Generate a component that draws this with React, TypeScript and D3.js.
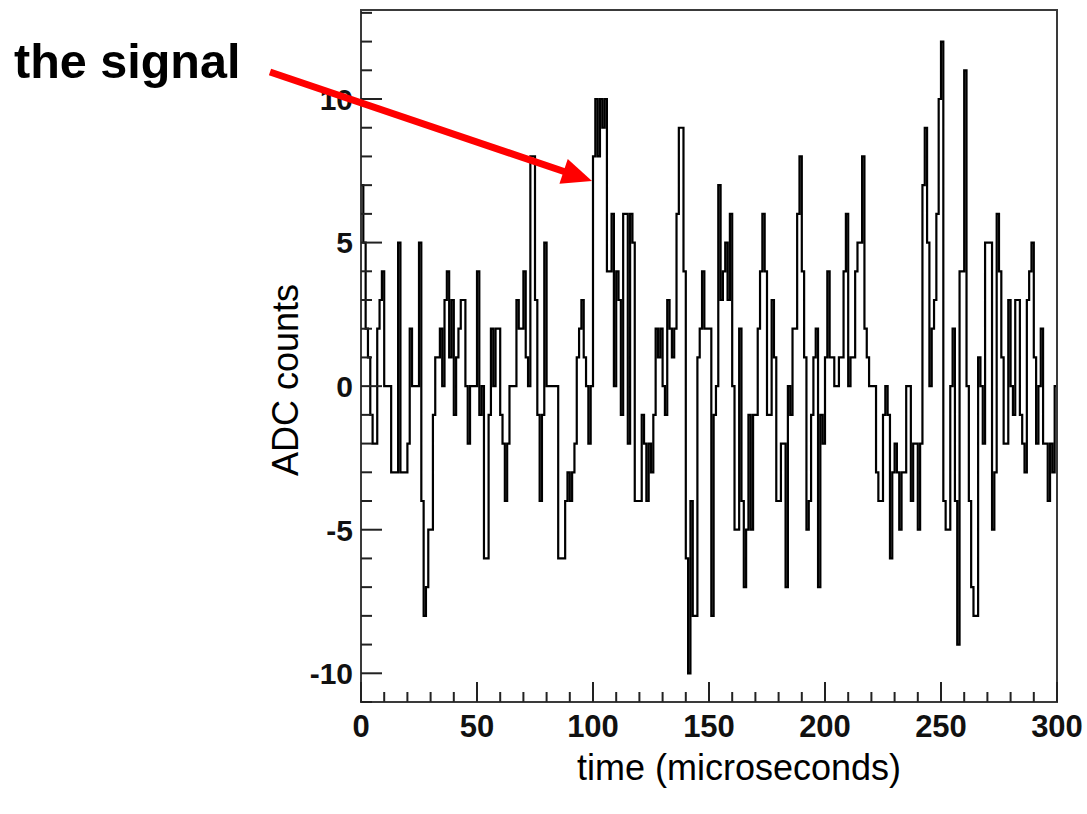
import React from "react";
import * as d3 from "d3";

// ADC samples, one per microsecond bin (0-299)
const adc000 = [7, 5, 2, 1, -1, -2, -2, 2, 3, 4, 0, 0, 0, -3, -3, -3, 5, -3, -3, -3, -2, 2, 0, 0, 0, 5, -4, -8, -7, -5, -5, -1, 1, 1, 2, 0, 3, 4, 1, 3, -1, 1, 2, 3, 3, 0, -2, 0, 0, 0];
const adc050 = [4, -1, 0, -6, -6, -1, 2, 0, 2, 2, -1, -2, -4, -2, 0, 0, 0, 3, 2, 2, 4, 1, 0, 8, 8, 3, -1, -4, -1, 5, 0, 0, 0, 0, 0, -6, -6, -6, -4, -3, -4, -3, -2, 1, 2, 3, 1, 0, -2, 0];
const adc100 = [8, 10, 8, 10, 9, 10, 4, 4, 6, 0, 4, 3, -1, 6, 6, -2, 6, 5, -4, -4, -4, -1, -2, -4, -2, -3, -1, 2, 1, 2, 0, -1, 3, 2, 1, 2, 6, 9, 9, 4, -6, -10, -4, -8, -8, 1, 2, 4, 2, 2];
const adc150 = [2, -8, -1, 0, 7, 3, 4, 5, 3, 6, 0, -5, -5, 2, -4, -7, -5, -1, -5, -1, -1, 2, 4, 6, 4, -1, -1, 3, 1, -4, -4, -2, -2, -7, 0, -1, 2, 2, 6, 8, 4, 1, -5, -4, -1, 1, 2, -7, -1, -2];
const adc200 = [1, 4, 1, 1, 0, 0, 1, 1, 4, 6, 0, 1, 1, 4, 5, 5, 8, 2, 1, 0, 0, 0, -3, -4, -4, -1, 0, -1, -6, -3, -2, -3, -5, -3, -3, 0, 0, -4, -2, -2, -5, -2, 7, 9, 5, 0, 2, 3, 6, 10];
const adc250 = [12, -4, -5, -5, 0, 2, -4, -9, 4, 4, 11, 0, -4, -7, -8, -8, 1, 0, -2, 5, 5, 5, -5, -3, 6, 4, 1, -2, -2, 3, 0, -1, 3, 3, -1, -2, -3, 3, 4, 5, 1, -2, 0, 2, -2, -2, -4, -2, -3, 0];

const adcCounts = [...adc000, ...adc050, ...adc100, ...adc150, ...adc200, ...adc250];

const xTickLabels = [0, 50, 100, 150, 200, 250, 300];
const yTickLabels = [-10, -5, 0, 5, 10];

const W = 1087;
const H = 814;
const FONT = "'Liberation Sans', Arial, Helvetica, sans-serif";

export default function App() {
  const left = 361;
  const right = 1057;
  const top = 10;
  const bottom = 702;

  const x = d3.scaleLinear().domain([0, 300]).range([left, right]);
  const y = d3.scaleLinear().domain([-11, 13.1]).range([bottom, top]);

  const pts: [number, number][] = adcCounts.map((v, i) => [i, v]);
  pts.push([adcCounts.length, adcCounts[adcCounts.length - 1]]);
  const line = d3
    .line<[number, number]>()
    .x((d) => x(d[0]))
    .y((d) => y(d[1]))
    .curve(d3.curveStepAfter);

  const yMinor = d3.range(-11, 14);
  const xMinor = d3.range(0, 301, 10);

  // arrow geometry (annotation)
  const ax1 = 270, ay1 = 72, ax2 = 592, ay2 = 181;
  const ang = Math.atan2(ay2 - ay1, ax2 - ax1);
  const headLen = 30, headW = 13;
  const bx = ax2 - headLen * Math.cos(ang);
  const by = ay2 - headLen * Math.sin(ang);
  const px = -Math.sin(ang), py = Math.cos(ang);
  const head = `${ax2},${ay2} ${bx + px * headW},${by + py * headW} ${bx - px * headW},${by - py * headW}`;

  return (
    <div style={{ position: "absolute", left: 0, top: 0 }}>
      <svg width={W} height={H} style={{ display: "block", background: "#fff" }}>
        {/* histogram */}
        <path d={line(pts) || ""} fill="none" stroke="#000" strokeWidth={2.2} />

        {/* frame */}
        <rect x={left} y={top} width={right - left} height={bottom - top} fill="none" stroke="#3a3a3a" strokeWidth={2} />

        {/* y ticks */}
        {yMinor.map((v) => {
          const major = v % 5 === 0;
          return (
            <line key={"yt" + v} x1={left} x2={left + (major ? 21 : 11)} y1={y(v)} y2={y(v)} stroke="#222" strokeWidth={2} />
          );
        })}
        {yTickLabels.map((v) => (
          <text key={"yl" + v} x={left - 8} y={y(v)} dy="0.36em" textAnchor="end" fontFamily={FONT} fontWeight="bold" fontSize={30} fill="#111">
            {v}
          </text>
        ))}

        {/* x ticks */}
        {xMinor.map((v) => {
          const major = v % 50 === 0;
          return (
            <line key={"xt" + v} x1={x(v)} x2={x(v)} y1={bottom} y2={bottom - (major ? 20 : 10)} stroke="#222" strokeWidth={2} />
          );
        })}
        {xTickLabels.map((v) => (
          <text key={"xl" + v} x={x(v)} y={bottom + 35} textAnchor="middle" fontFamily={FONT} fontWeight="bold" fontSize={31} fill="#111">
            {v}
          </text>
        ))}

        {/* axis titles */}
        <text
          transform={`translate(${298},${380}) rotate(-90)`}
          textAnchor="middle"
          fontFamily={FONT}
          fontSize={36}
          fill="#000"
        >
          ADC counts
        </text>
        <text x={739} y={780} textAnchor="middle" fontFamily={FONT} fontSize={36} fill="#000">
          time (microseconds)
        </text>

        {/* annotation */}
        <text x={14} y={78} fontFamily={FONT} fontWeight="bold" fontSize={48.5} fill="#000">
          the signal
        </text>
        <line x1={ax1} y1={ay1} x2={bx + 2 * Math.cos(ang)} y2={by + 2 * Math.sin(ang)} stroke="#f00" strokeWidth={7} />
        <polygon points={head} fill="#f00" />
      </svg>
    </div>
  );
}
